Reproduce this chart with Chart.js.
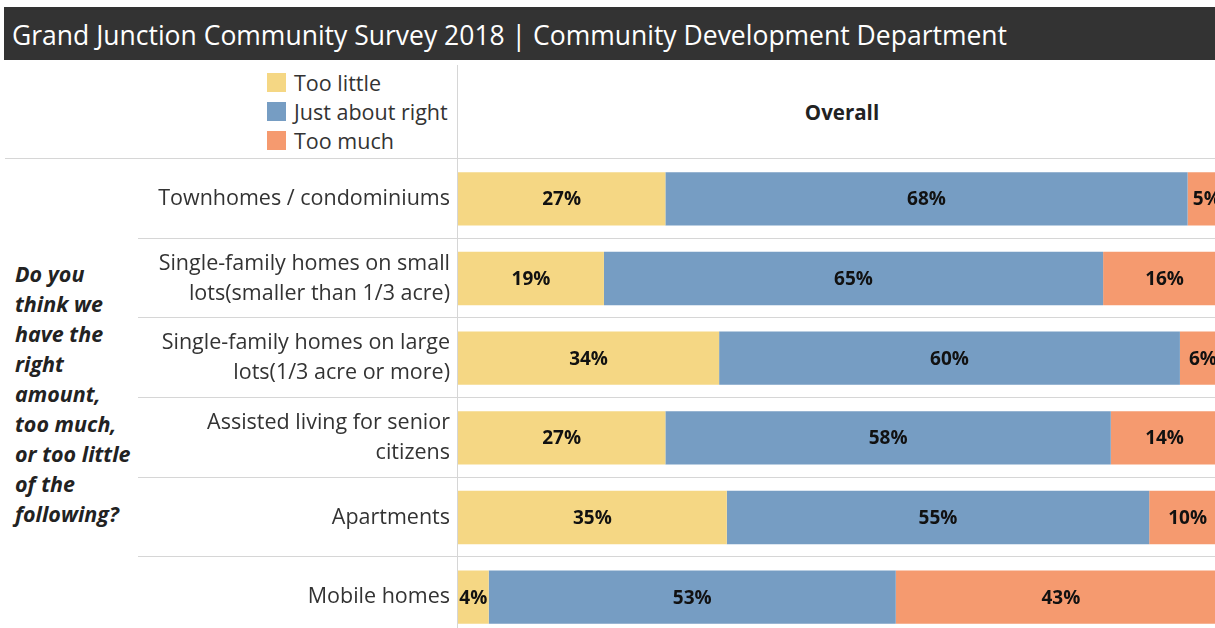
<!DOCTYPE html>
<html>
<head>
<meta charset="utf-8">
<script src="https://cdn.jsdelivr.net/npm/chart.js@4.4.1/dist/chart.umd.min.js"></script>
<style>
  html, body { margin:0; padding:0; background:#fff; overflow:hidden; width:1215px; height:628px; font-family:'Open Sans', sans-serif; }
  #title { position:absolute; left:4px; top:7px; width:1211px; height:53px; background:#333; color:#fff;
           font-size:26.5px; line-height:56px; padding-left:8px; box-sizing:border-box; white-space:nowrap; overflow:hidden; }
  #legend { position:absolute; left:267px; top:68px; }
  .item { height:29px; display:flex; align-items:center; font-size:21.5px; color:#333; }
  .swatch { width:19px; height:19px; margin-right:8px; flex:none; }
  #overall { position:absolute; left:458px; width:768px; top:98px; text-align:center; font-weight:bold; font-size:20.5px; color:#222; }
  #question { position:absolute; left:15px; top:259px; font-weight:bold; font-style:italic; font-size:21.5px; line-height:30px; color:#222; }
  .hline { position:absolute; left:5px; top:158px; width:1210px; height:1px; background:#d6d6d6; }
  .vline { position:absolute; left:457px; top:65px; width:1px; height:563px; background:#d6d6d6; }
  #wrap { position:absolute; left:0; top:159px; width:1226px; height:478px; }
</style>
</head>
<body>
<div id="title">Grand Junction Community Survey 2018 | Community Development Department</div>
<div id="legend"></div>
<div id="overall">Overall</div>
<div class="hline"></div>
<div class="vline"></div>
<div id="question">Do you<br>think we<br>have the<br>right<br>amount,<br>too much,<br>or too little<br>of the<br>following?</div>
<div id="wrap"><canvas id="chart" width="1226" height="478"></canvas></div>
<script>
const categories = [
  ['Townhomes / condominiums'],
  ['Single-family homes on small', 'lots(smaller than 1/3 acre)'],
  ['Single-family homes on large', 'lots(1/3 acre or more)'],
  ['Assisted living for senior', 'citizens'],
  ['Apartments'],
  ['Mobile homes']
];
const seriesNames = ['Too little', 'Just about right', 'Too much'];
const tooLittle = [27, 19, 34, 27, 35, 4];
const justRight = [68, 65, 60, 58, 55, 53];
const tooMuch = [5, 16, 6, 14, 10, 43];

const COLORS = ['#f5d784', '#769dc3', '#f59a6f'];

// legend
const legend = document.getElementById('legend');
seriesNames.forEach((name, i) => {
  const d = document.createElement('div');
  d.className = 'item';
  d.innerHTML = `<span class="swatch" style="background:${COLORS[i]}"></span>${name}`;
  legend.appendChild(d);
});

// separator lines between rows
const rowLines = {
  id: 'rowLines',
  beforeDatasetsDraw(chart) {
    const y = chart.scales.y;
    const c = chart.ctx;
    const step = y.getPixelForValue(1) - y.getPixelForValue(0);
    c.save();
    c.strokeStyle = '#d6d6d6';
    c.lineWidth = 1;
    for (let i = 0; i < categories.length - 1; i++) {
      const py = Math.round(y.getPixelForValue(i) + step / 2) - 0.5;
      c.beginPath();
      c.moveTo(138, py);
      c.lineTo(chart.width, py);
      c.stroke();
    }
    c.restore();
  }
};

// value labels in the middle of each segment
const segLabels = {
  id: 'segLabels',
  afterDatasetsDraw(chart) {
    const c = chart.ctx;
    c.save();
    c.font = 'bold 19px "Open Sans"';
    c.fillStyle = '#111';
    c.textAlign = 'center';
    c.textBaseline = 'middle';
    chart.data.datasets.forEach((ds, di) => {
      chart.getDatasetMeta(di).data.forEach((bar, i) => {
        c.fillText(ds.data[i] + '%', (bar.x + bar.base) / 2, bar.y + 1);
      });
    });
    c.restore();
  }
};

new Chart(document.getElementById('chart').getContext('2d'), {
  type: 'bar',
  data: {
    labels: categories,
    datasets: [
      { label: seriesNames[0], data: tooLittle, backgroundColor: COLORS[0] },
      { label: seriesNames[1], data: justRight, backgroundColor: COLORS[1] },
      { label: seriesNames[2], data: tooMuch, backgroundColor: COLORS[2] }
    ]
  },
  options: {
    indexAxis: 'y',
    responsive: false,
    animation: false,
    layout: { padding: 0 },
    datasets: { bar: { categoryPercentage: 1, barPercentage: 0.67 } },
    plugins: { legend: { display: false }, tooltip: { enabled: false } },
    scales: {
      x: { stacked: true, min: 0, max: 100, display: false },
      y: {
        stacked: true,
        grid: { display: false, drawTicks: false },
        border: { display: false },
        ticks: { font: { family: 'Open Sans', size: 21.5, lineHeight: '30px' }, color: '#333', padding: 8 },
        afterFit(scale) {
          scale.width = 458;
          scale.paddingTop = 0;
          scale.paddingBottom = 0;
        }
      }
    }
  },
  plugins: [rowLines, segLabels]
});
</script>
</body>
</html>
